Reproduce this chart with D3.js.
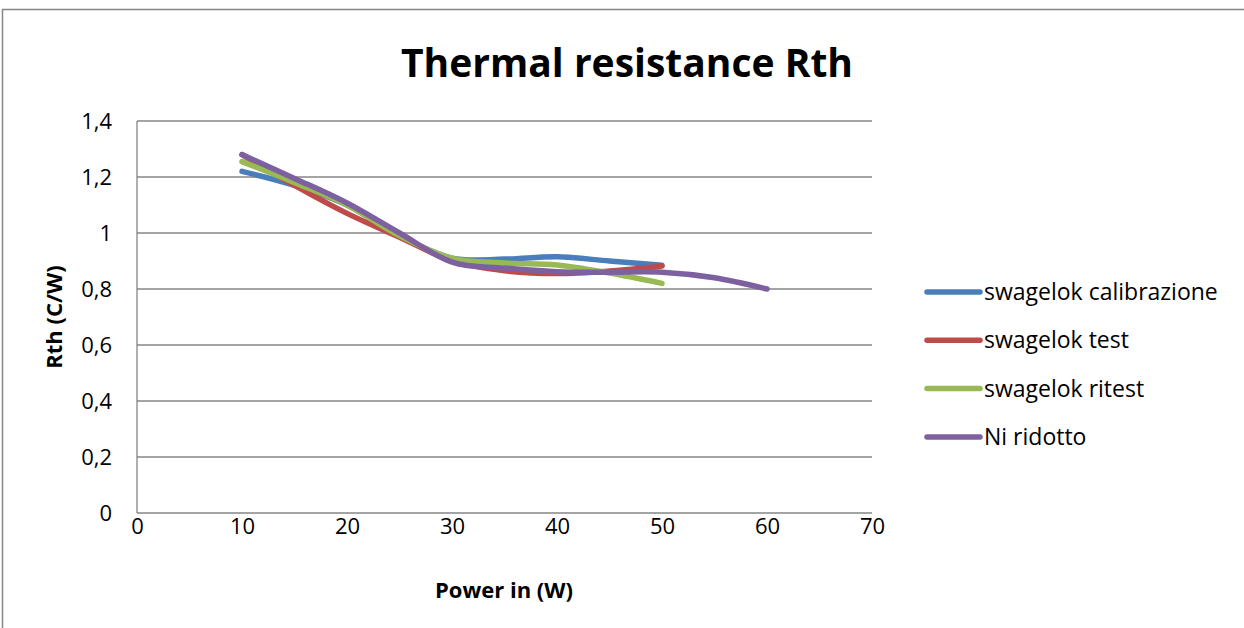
<!DOCTYPE html>
<html>
<head>
<meta charset="utf-8">
<script src="https://cdn.jsdelivr.net/npm/d3@7"></script>
<style>
  body { margin: 0; background: #fff; }
  svg { font-family: 'Open Sans', sans-serif; }
</style>
</head>
<body>
<svg id="chart"></svg>
<script>
// data (Rth in C/W against power in W)
const power = [10, 15, 20, 25, 30, 35, 40, 45, 50];
const powerNi = [10, 15, 20, 25, 30, 35, 40, 45, 50, 55, 60];

const calibrazione = [1.22, 1.17, 1.10, 0.99, 0.91, 0.907, 0.915, 0.90, 0.885];
const test = [1.28, 1.17, 1.07, 0.985, 0.90, 0.865, 0.855, 0.864, 0.882];
const ritest = [1.255, 1.18, 1.10, 0.99, 0.91, 0.893, 0.886, 0.857, 0.82];
const niRidotto = [1.28, 1.195, 1.107, 1.0, 0.896, 0.875, 0.862, 0.86, 0.86, 0.84, 0.80];

const seriesNames = ['swagelok calibrazione', 'swagelok test', 'swagelok ritest', 'Ni ridotto'];
const colors = ['#4A7EBB', '#BE4B48', '#98B954', '#7D60A0'];

const xTicks = [0, 10, 20, 30, 40, 50, 60, 70];
const yTicks = [0, 0.2, 0.4, 0.6, 0.8, 1, 1.2, 1.4];

const width = 1244;
const height = 628;

const svg = d3.select('#chart').attr('width', width).attr('height', height);

// outer chart frame (runs past the picture on the right and bottom)
svg.append('rect')
	.attr('x', 2.5).attr('y', 9.5)
	.attr('width', width + 10).attr('height', height + 10)
	.attr('fill', 'none').attr('stroke', '#868686').attr('stroke-width', 1.5);

const x = d3.scaleLinear().domain([0, 70]).range([137, 872]);
const y = d3.scaleLinear().domain([0, 1.4]).range([513, 121]);

// gridlines
svg.append('g')
	.selectAll('line')
	.data(yTicks.slice(1))
	.enter()
	.append('line')
	.attr('x1', x(0)).attr('x2', x(70))
	.attr('y1', (d) => y(d)).attr('y2', (d) => y(d))
	.attr('stroke', '#868686').attr('stroke-width', 1.3);

// axes
const xAxis = svg.append('g')
	.attr('transform', `translate(0, ${y(0)})`)
	.call(d3.axisBottom(x).tickValues(xTicks).tickSize(0).tickPadding(5));

const yAxis = svg.append('g')
	.attr('transform', `translate(${x(0)}, 0)`)
	.call(d3.axisLeft(y).tickValues(yTicks).tickSize(0).tickPadding(25)
		.tickFormat((d) => String(d).replace('.', ',')));

[xAxis, yAxis].forEach((a) => {
	a.select('.domain').attr('stroke', '#868686').attr('stroke-width', 1.3);
	a.selectAll('text').attr('font-size', '22px').attr('fill', '#000')
		.attr('font-family', "'Open Sans', sans-serif");
});
yAxis.select('.domain').attr('d', `M0,${y(1.4)}V${y(0)}`);
xAxis.select('.domain').attr('d', `M0,0H${x(70) - x(0)}`).attr('transform', `translate(${x(0)},0)`);

// lines
const line = d3.line()
	.x((d) => x(d[0]))
	.y((d) => y(d[1]))
	.curve(d3.curveCatmullRom.alpha(0));

const allSeries = [
	d3.zip(power, calibrazione),
	d3.zip(power, test),
	d3.zip(power, ritest),
	d3.zip(powerNi, niRidotto)
];

svg.append('g')
	.selectAll('path')
	.data(allSeries)
	.enter()
	.append('path')
	.attr('d', line)
	.attr('fill', 'none')
	.attr('stroke', (d, i) => colors[i])
	.attr('stroke-width', 5.5)
	.attr('stroke-linecap', 'round')
	.attr('stroke-linejoin', 'round');

// title and axis titles
svg.append('text')
	.attr('x', 627).attr('y', 77)
	.attr('text-anchor', 'middle')
	.attr('font-size', '39px').attr('font-weight', 'bold')
	.text('Thermal resistance Rth');

svg.append('text')
	.attr('x', 504).attr('y', 598)
	.attr('text-anchor', 'middle')
	.attr('font-size', '22px').attr('font-weight', 'bold')
	.text('Power in (W)');

svg.append('text')
	.attr('transform', `translate(62, ${y(0.7)}) rotate(-90)`)
	.attr('text-anchor', 'middle')
	.attr('font-size', '22px').attr('font-weight', 'bold')
	.text('Rth (C/W)');

// legend
const legend = svg.append('g')
	.selectAll('g')
	.data(seriesNames)
	.enter()
	.append('g')
	.attr('transform', (d, i) => `translate(927, ${292 + i * 48.3})`);

legend.append('line')
	.attr('x1', 0).attr('x2', 53)
	.attr('stroke', (d, i) => colors[i])
	.attr('stroke-width', 5.5)
	.attr('stroke-linecap', 'round');

legend.append('text')
	.attr('x', 57).attr('y', 8)
	.attr('font-size', '23px')
	.text((d) => d);
</script>
</body>
</html>
